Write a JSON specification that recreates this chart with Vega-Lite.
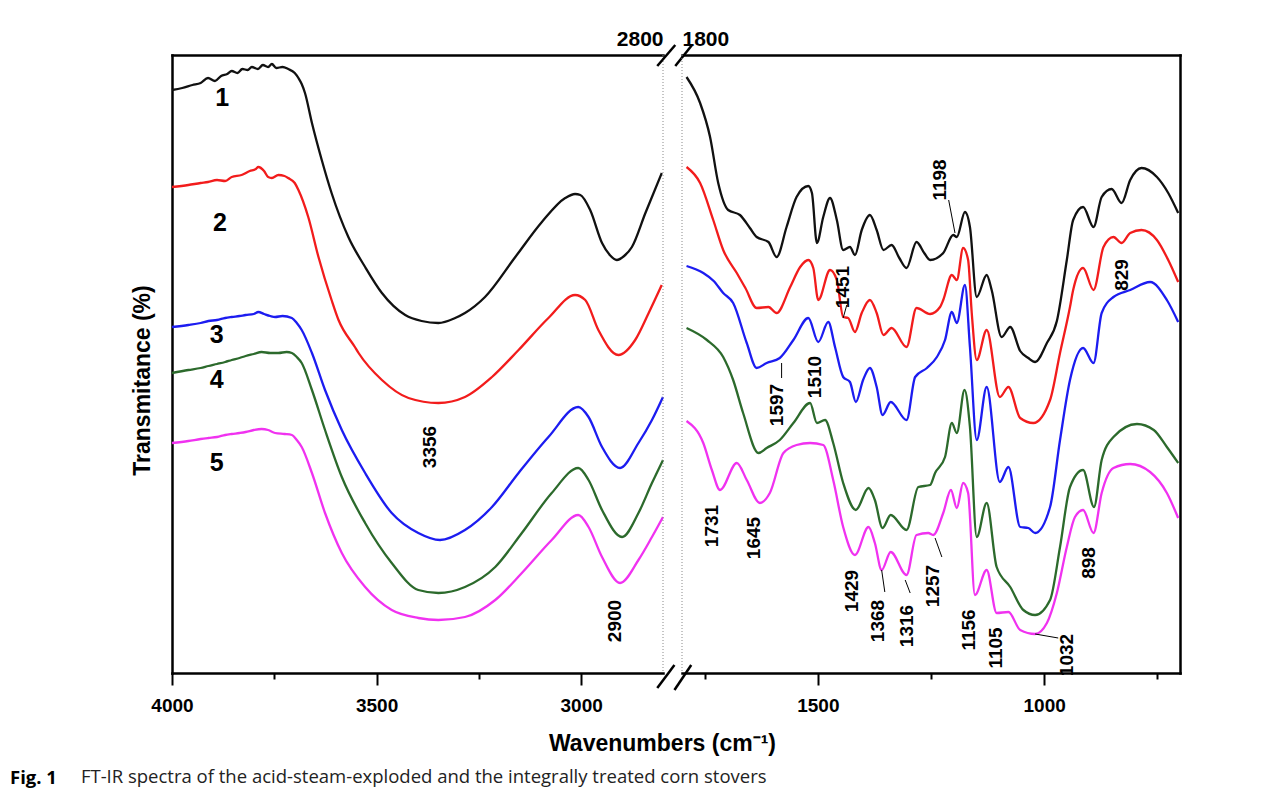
{
  "$schema": "https://vega.github.io/schema/vega-lite/v6.json",
  "background": "white",
  "padding": {"left": 10, "top": 28, "right": 10, "bottom": 4},
  "bounds": "flush",
  "config": {
    "view": {"stroke": null},
    "font": "Liberation Sans",
    "axis": {
      "domainColor": "black", "domainWidth": 2.5, "domainCap": "square",
      "tickColor": "black", "tickWidth": 2,
      "labelColor": "black", "titleColor": "black", "grid": false,
      "labelFont": "Liberation Sans", "labelFontWeight": "bold", "labelFontSize": 19,
      "titleFont": "Liberation Sans", "titleFontWeight": "bold"
    }
  },
  "title": {
    "text": "\u200b\u2003\u2003\u2003\u2002\u2009\u2009FT-IR spectra of the acid-steam-exploded and the integrally treated corn stovers",
    "subtitle": "Fig. 1",
    "orient": "bottom", "anchor": "start", "frame": "bounds",
    "font": "Open Sans", "fontSize": 18.5, "fontWeight": "normal", "color": "#222",
    "subtitleFont": "Open Sans", "subtitleFontSize": 18.5, "subtitleFontWeight": "bold", "subtitleColor": "black",
    "subtitlePadding": -17.5, "dx": -121, "offset": 13
  },
  "datasets": {
    "spectra": [
      {"s":"1","w":4000,"t":583},{"s":"1","w":3975,"t":585},{"s":"1","w":3950,"t":588},{"s":"1","w":3930,"t":590},{"s":"1","w":3912,"t":595},{"s":"1","w":3895,"t":592},{"s":"1","w":3880,"t":597},{"s":"1","w":3865,"t":599},{"s":"1","w":3854,"t":602},{"s":"1","w":3840,"t":600},{"s":"1","w":3828,"t":604},{"s":"1","w":3815,"t":603},{"s":"1","w":3805,"t":606},{"s":"1","w":3790,"t":604},{"s":"1","w":3778,"t":608},{"s":"1","w":3765,"t":606},{"s":"1","w":3756,"t":609},{"s":"1","w":3745,"t":605},{"s":"1","w":3730,"t":606},{"s":"1","w":3716,"t":604},{"s":"1","w":3700,"t":600},{"s":"1","w":3691,"t":595},{"s":"1","w":3683,"t":589},{"s":"1","w":3675,"t":580},{"s":"1","w":3658,"t":550},{"s":"1","w":3634,"t":513},{"s":"1","w":3610,"t":480},{"s":"1","w":3569,"t":436},{"s":"1","w":3528,"t":406},{"s":"1","w":3487,"t":380},{"s":"1","w":3430,"t":358},{"s":"1","w":3390,"t":352},{"s":"1","w":3349,"t":350},{"s":"1","w":3308,"t":355},{"s":"1","w":3284,"t":360},{"s":"1","w":3235,"t":376},{"s":"1","w":3161,"t":416},{"s":"1","w":3096,"t":451},{"s":"1","w":3039,"t":475},{"s":"1","w":3015,"t":479},{"s":"1","w":3002,"t":478},{"s":"1","w":2978,"t":463},{"s":"1","w":2949,"t":430},{"s":"1","w":2930,"t":418},{"s":"1","w":2913,"t":413},{"s":"1","w":2895,"t":417},{"s":"1","w":2876,"t":426},{"s":"1","w":2843,"t":460},{"s":"1","w":2803,"t":500},
      {"s":"2","w":4000,"t":486},{"s":"2","w":3960,"t":488},{"s":"2","w":3930,"t":490},{"s":"2","w":3912,"t":491},{"s":"2","w":3890,"t":493},{"s":"2","w":3870,"t":492},{"s":"2","w":3854,"t":496},{"s":"2","w":3830,"t":498},{"s":"2","w":3810,"t":502},{"s":"2","w":3795,"t":504},{"s":"2","w":3789,"t":506},{"s":"2","w":3775,"t":502},{"s":"2","w":3765,"t":496},{"s":"2","w":3756,"t":495},{"s":"2","w":3740,"t":498},{"s":"2","w":3725,"t":497},{"s":"2","w":3716,"t":495},{"s":"2","w":3700,"t":490},{"s":"2","w":3691,"t":483},{"s":"2","w":3667,"t":456},{"s":"2","w":3642,"t":416},{"s":"2","w":3610,"t":373},{"s":"2","w":3593,"t":353},{"s":"2","w":3553,"t":326},{"s":"2","w":3544,"t":320},{"s":"2","w":3487,"t":293},{"s":"2","w":3422,"t":275},{"s":"2","w":3349,"t":270},{"s":"2","w":3284,"t":276},{"s":"2","w":3218,"t":296},{"s":"2","w":3153,"t":323},{"s":"2","w":3080,"t":355},{"s":"2","w":3015,"t":378},{"s":"2","w":2990,"t":373},{"s":"2","w":2958,"t":343},{"s":"2","w":2909,"t":318},{"s":"2","w":2868,"t":333},{"s":"2","w":2835,"t":360},{"s":"2","w":2803,"t":388},
      {"s":"3","w":4000,"t":346},{"s":"3","w":3960,"t":348},{"s":"3","w":3930,"t":350},{"s":"3","w":3911,"t":352},{"s":"3","w":3890,"t":353},{"s":"3","w":3870,"t":355},{"s":"3","w":3854,"t":356},{"s":"3","w":3835,"t":357},{"s":"3","w":3820,"t":358},{"s":"3","w":3800,"t":359},{"s":"3","w":3789,"t":361},{"s":"3","w":3775,"t":359},{"s":"3","w":3760,"t":357},{"s":"3","w":3748,"t":356},{"s":"3","w":3730,"t":357},{"s":"3","w":3707,"t":355},{"s":"3","w":3695,"t":350},{"s":"3","w":3683,"t":343},{"s":"3","w":3658,"t":320},{"s":"3","w":3626,"t":283},{"s":"3","w":3585,"t":243},{"s":"3","w":3528,"t":200},{"s":"3","w":3463,"t":160},{"s":"3","w":3398,"t":140},{"s":"3","w":3345,"t":133},{"s":"3","w":3284,"t":143},{"s":"3","w":3218,"t":166},{"s":"3","w":3153,"t":200},{"s":"3","w":3080,"t":236},{"s":"3","w":3007,"t":266},{"s":"3","w":2982,"t":256},{"s":"3","w":2949,"t":226},{"s":"3","w":2905,"t":205},{"s":"3","w":2860,"t":230},{"s":"3","w":2827,"t":253},{"s":"3","w":2800,"t":276},
      {"s":"4","w":4000,"t":300},{"s":"4","w":3960,"t":303},{"s":"4","w":3930,"t":305},{"s":"4","w":3911,"t":307},{"s":"4","w":3890,"t":309},{"s":"4","w":3870,"t":311},{"s":"4","w":3854,"t":313},{"s":"4","w":3835,"t":315},{"s":"4","w":3820,"t":317},{"s":"4","w":3800,"t":319},{"s":"4","w":3781,"t":321},{"s":"4","w":3760,"t":320},{"s":"4","w":3740,"t":320},{"s":"4","w":3720,"t":321},{"s":"4","w":3707,"t":320},{"s":"4","w":3695,"t":316},{"s":"4","w":3683,"t":310},{"s":"4","w":3658,"t":283},{"s":"4","w":3626,"t":243},{"s":"4","w":3585,"t":196},{"s":"4","w":3528,"t":150},{"s":"4","w":3463,"t":110},{"s":"4","w":3398,"t":83},{"s":"4","w":3349,"t":80},{"s":"4","w":3284,"t":86},{"s":"4","w":3210,"t":106},{"s":"4","w":3145,"t":140},{"s":"4","w":3072,"t":180},{"s":"4","w":3007,"t":205},{"s":"4","w":2982,"t":193},{"s":"4","w":2949,"t":163},{"s":"4","w":2900,"t":136},{"s":"4","w":2860,"t":160},{"s":"4","w":2827,"t":190},{"s":"4","w":2800,"t":213},
      {"s":"5","w":4000,"t":230},{"s":"5","w":3960,"t":232},{"s":"5","w":3930,"t":234},{"s":"5","w":3911,"t":235},{"s":"5","w":3890,"t":236},{"s":"5","w":3870,"t":238},{"s":"5","w":3854,"t":239},{"s":"5","w":3835,"t":240},{"s":"5","w":3820,"t":241},{"s":"5","w":3800,"t":243},{"s":"5","w":3781,"t":244},{"s":"5","w":3765,"t":243},{"s":"5","w":3748,"t":240},{"s":"5","w":3725,"t":239},{"s":"5","w":3707,"t":238},{"s":"5","w":3695,"t":233},{"s":"5","w":3683,"t":226},{"s":"5","w":3658,"t":200},{"s":"5","w":3626,"t":160},{"s":"5","w":3585,"t":120},{"s":"5","w":3528,"t":86},{"s":"5","w":3463,"t":63},{"s":"5","w":3398,"t":55},{"s":"5","w":3349,"t":53},{"s":"5","w":3284,"t":56},{"s":"5","w":3210,"t":73},{"s":"5","w":3145,"t":100},{"s":"5","w":3072,"t":133},{"s":"5","w":3007,"t":158},{"s":"5","w":2982,"t":146},{"s":"5","w":2949,"t":116},{"s":"5","w":2905,"t":90},{"s":"5","w":2860,"t":113},{"s":"5","w":2827,"t":136},{"s":"5","w":2800,"t":156},
      {"s":"1","w":1790,"t":596},{"s":"1","w":1760,"t":570},{"s":"1","w":1738,"t":536},{"s":"1","w":1720,"t":490},{"s":"1","w":1698,"t":463},{"s":"1","w":1672,"t":458},{"s":"1","w":1650,"t":445},{"s":"1","w":1635,"t":436},{"s":"1","w":1609,"t":431},{"s":"1","w":1591,"t":416},{"s":"1","w":1569,"t":446},{"s":"1","w":1547,"t":476},{"s":"1","w":1521,"t":487},{"s":"1","w":1513,"t":480},{"s":"1","w":1502,"t":430},{"s":"1","w":1488,"t":456},{"s":"1","w":1473,"t":475},{"s":"1","w":1458,"t":453},{"s":"1","w":1444,"t":423},{"s":"1","w":1429,"t":426},{"s":"1","w":1418,"t":418},{"s":"1","w":1403,"t":443},{"s":"1","w":1385,"t":458},{"s":"1","w":1370,"t":443},{"s":"1","w":1355,"t":423},{"s":"1","w":1337,"t":428},{"s":"1","w":1320,"t":415},{"s":"1","w":1304,"t":405},{"s":"1","w":1282,"t":431},{"s":"1","w":1265,"t":420},{"s":"1","w":1252,"t":413},{"s":"1","w":1223,"t":420},{"s":"1","w":1201,"t":438},{"s":"1","w":1193,"t":436},{"s":"1","w":1175,"t":461},{"s":"1","w":1164,"t":446},{"s":"1","w":1149,"t":376},{"s":"1","w":1127,"t":398},{"s":"1","w":1116,"t":383},{"s":"1","w":1094,"t":336},{"s":"1","w":1075,"t":346},{"s":"1","w":1053,"t":322},{"s":"1","w":1035,"t":315},{"s":"1","w":1020,"t":311},{"s":"1","w":994,"t":330},{"s":"1","w":972,"t":352},{"s":"1","w":950,"t":413},{"s":"1","w":936,"t":453},{"s":"1","w":914,"t":466},{"s":"1","w":891,"t":446},{"s":"1","w":873,"t":476},{"s":"1","w":851,"t":484},{"s":"1","w":829,"t":470},{"s":"1","w":810,"t":493},{"s":"1","w":785,"t":505},{"s":"1","w":751,"t":496},{"s":"1","w":726,"t":480},{"s":"1","w":704,"t":460},
      {"s":"2","w":1790,"t":506},{"s":"2","w":1760,"t":490},{"s":"2","w":1731,"t":453},{"s":"2","w":1709,"t":423},{"s":"2","w":1679,"t":400},{"s":"2","w":1660,"t":385},{"s":"2","w":1635,"t":365},{"s":"2","w":1609,"t":366},{"s":"2","w":1591,"t":360},{"s":"2","w":1561,"t":386},{"s":"2","w":1539,"t":406},{"s":"2","w":1521,"t":413},{"s":"2","w":1510,"t":405},{"s":"2","w":1499,"t":373},{"s":"2","w":1473,"t":403},{"s":"2","w":1458,"t":393},{"s":"2","w":1444,"t":356},{"s":"2","w":1433,"t":355},{"s":"2","w":1418,"t":341},{"s":"2","w":1403,"t":360},{"s":"2","w":1385,"t":373},{"s":"2","w":1370,"t":360},{"s":"2","w":1355,"t":338},{"s":"2","w":1337,"t":345},{"s":"2","w":1304,"t":326},{"s":"2","w":1282,"t":365},{"s":"2","w":1252,"t":359},{"s":"2","w":1230,"t":366},{"s":"2","w":1223,"t":373},{"s":"2","w":1204,"t":398},{"s":"2","w":1193,"t":393},{"s":"2","w":1179,"t":425},{"s":"2","w":1168,"t":413},{"s":"2","w":1160,"t":360},{"s":"2","w":1149,"t":313},{"s":"2","w":1127,"t":343},{"s":"2","w":1098,"t":276},{"s":"2","w":1079,"t":286},{"s":"2","w":1053,"t":255},{"s":"2","w":1024,"t":250},{"s":"2","w":987,"t":273},{"s":"2","w":965,"t":320},{"s":"2","w":943,"t":366},{"s":"2","w":936,"t":383},{"s":"2","w":914,"t":405},{"s":"2","w":891,"t":383},{"s":"2","w":869,"t":426},{"s":"2","w":847,"t":436},{"s":"2","w":829,"t":430},{"s":"2","w":810,"t":440},{"s":"2","w":785,"t":443},{"s":"2","w":751,"t":433},{"s":"2","w":726,"t":413},{"s":"2","w":704,"t":391},
      {"s":"3","w":1790,"t":407},{"s":"3","w":1753,"t":400},{"s":"3","w":1730,"t":392},{"s":"3","w":1709,"t":380},{"s":"3","w":1687,"t":370},{"s":"3","w":1657,"t":330},{"s":"3","w":1635,"t":305},{"s":"3","w":1613,"t":310},{"s":"3","w":1584,"t":315},{"s":"3","w":1554,"t":333},{"s":"3","w":1521,"t":355},{"s":"3","w":1499,"t":331},{"s":"3","w":1477,"t":351},{"s":"3","w":1462,"t":326},{"s":"3","w":1444,"t":296},{"s":"3","w":1429,"t":291},{"s":"3","w":1416,"t":271},{"s":"3","w":1400,"t":293},{"s":"3","w":1385,"t":305},{"s":"3","w":1370,"t":286},{"s":"3","w":1357,"t":258},{"s":"3","w":1339,"t":271},{"s":"3","w":1304,"t":253},{"s":"3","w":1285,"t":296},{"s":"3","w":1259,"t":305},{"s":"3","w":1237,"t":316},{"s":"3","w":1219,"t":333},{"s":"3","w":1204,"t":361},{"s":"3","w":1193,"t":350},{"s":"3","w":1175,"t":388},{"s":"3","w":1164,"t":326},{"s":"3","w":1149,"t":233},{"s":"3","w":1127,"t":286},{"s":"3","w":1098,"t":191},{"s":"3","w":1079,"t":206},{"s":"3","w":1053,"t":146},{"s":"3","w":1035,"t":145},{"s":"3","w":1020,"t":140},{"s":"3","w":987,"t":166},{"s":"3","w":965,"t":233},{"s":"3","w":943,"t":293},{"s":"3","w":914,"t":325},{"s":"3","w":891,"t":310},{"s":"3","w":873,"t":360},{"s":"3","w":847,"t":376},{"s":"3","w":810,"t":383},{"s":"3","w":766,"t":391},{"s":"3","w":729,"t":373},{"s":"3","w":704,"t":351},
      {"s":"4","w":1790,"t":345},{"s":"4","w":1745,"t":333},{"s":"4","w":1709,"t":316},{"s":"4","w":1687,"t":293},{"s":"4","w":1665,"t":260},{"s":"4","w":1631,"t":220},{"s":"4","w":1613,"t":225},{"s":"4","w":1584,"t":233},{"s":"4","w":1554,"t":250},{"s":"4","w":1517,"t":270},{"s":"4","w":1502,"t":250},{"s":"4","w":1484,"t":253},{"s":"4","w":1466,"t":230},{"s":"4","w":1444,"t":190},{"s":"4","w":1416,"t":163},{"s":"4","w":1388,"t":185},{"s":"4","w":1374,"t":173},{"s":"4","w":1357,"t":145},{"s":"4","w":1339,"t":158},{"s":"4","w":1304,"t":143},{"s":"4","w":1278,"t":186},{"s":"4","w":1252,"t":188},{"s":"4","w":1241,"t":200},{"s":"4","w":1219,"t":216},{"s":"4","w":1204,"t":250},{"s":"4","w":1193,"t":240},{"s":"4","w":1176,"t":283},{"s":"4","w":1164,"t":246},{"s":"4","w":1149,"t":136},{"s":"4","w":1127,"t":170},{"s":"4","w":1105,"t":106},{"s":"4","w":1075,"t":86},{"s":"4","w":1046,"t":63},{"s":"4","w":1020,"t":58},{"s":"4","w":987,"t":73},{"s":"4","w":965,"t":126},{"s":"4","w":943,"t":186},{"s":"4","w":914,"t":203},{"s":"4","w":890,"t":166},{"s":"4","w":873,"t":213},{"s":"4","w":847,"t":236},{"s":"4","w":795,"t":249},{"s":"4","w":758,"t":243},{"s":"4","w":729,"t":226},{"s":"4","w":704,"t":210},
      {"s":"5","w":1790,"t":252},{"s":"5","w":1753,"t":230},{"s":"5","w":1734,"t":203},{"s":"5","w":1716,"t":183},{"s":"5","w":1679,"t":210},{"s":"5","w":1657,"t":193},{"s":"5","w":1628,"t":170},{"s":"5","w":1606,"t":180},{"s":"5","w":1576,"t":220},{"s":"5","w":1547,"t":228},{"s":"5","w":1517,"t":230},{"s":"5","w":1488,"t":228},{"s":"5","w":1466,"t":193},{"s":"5","w":1444,"t":146},{"s":"5","w":1418,"t":118},{"s":"5","w":1388,"t":146},{"s":"5","w":1374,"t":130},{"s":"5","w":1359,"t":103},{"s":"5","w":1339,"t":121},{"s":"5","w":1304,"t":98},{"s":"5","w":1282,"t":138},{"s":"5","w":1256,"t":140},{"s":"5","w":1245,"t":138},{"s":"5","w":1223,"t":160},{"s":"5","w":1206,"t":183},{"s":"5","w":1193,"t":165},{"s":"5","w":1179,"t":190},{"s":"5","w":1168,"t":180},{"s":"5","w":1153,"t":78},{"s":"5","w":1127,"t":103},{"s":"5","w":1105,"t":60},{"s":"5","w":1079,"t":61},{"s":"5","w":1053,"t":43},{"s":"5","w":1020,"t":39},{"s":"5","w":994,"t":50},{"s":"5","w":972,"t":80},{"s":"5","w":950,"t":126},{"s":"5","w":932,"t":156},{"s":"5","w":914,"t":163},{"s":"5","w":891,"t":140},{"s":"5","w":873,"t":180},{"s":"5","w":847,"t":205},{"s":"5","w":810,"t":209},{"s":"5","w":766,"t":201},{"s":"5","w":729,"t":180},{"s":"5","w":704,"t":155}
    ],
    "labels": [
      {"label":"1","kind":"curve","w":3877,"t":575},
      {"label":"2","kind":"curve","w":3883,"t":450},
      {"label":"3","kind":"curve","w":3891,"t":338},
      {"label":"4","kind":"curve","w":3891,"t":293},
      {"label":"5","kind":"curve","w":3891,"t":210},
      {"label":"3356","kind":"peakL","w":3369,"t":226},
      {"label":"2900","kind":"peakL","w":2917,"t":52},
      {"label":"1198","kind":"peakR","w":1230,"t":493},
      {"label":"1451","kind":"peakR","w":1444,"t":386},
      {"label":"829","kind":"peakR","w":829,"t":398},
      {"label":"1597","kind":"peakR","w":1591,"t":268},
      {"label":"1510","kind":"peakR","w":1506,"t":296},
      {"label":"1731","kind":"peakR","w":1734,"t":147},
      {"label":"1645","kind":"peakR","w":1642,"t":135},
      {"label":"1429","kind":"peakR","w":1425,"t":82},
      {"label":"1368","kind":"peakR","w":1366,"t":52},
      {"label":"1316","kind":"peakR","w":1304,"t":47},
      {"label":"1257","kind":"peakR","w":1245,"t":87},
      {"label":"1156","kind":"peakR","w":1167,"t":43},
      {"label":"1105","kind":"peakR","w":1106,"t":25},
      {"label":"1032","kind":"peakR","w":950,"t":18},
      {"label":"898","kind":"peakR","w":902,"t":110}
    ],
    "leaders": [
      {"peak":"1198","w1":1211,"t1":473,"w2":1197,"t2":440},
      {"peak":"1451","w1":1436,"t1":368,"w2":1444,"t2":355},
      {"peak":"1597","w1":1580,"t1":310,"w2":1580,"t2":295},
      {"peak":"1368","w1":1359,"t1":103,"w2":1352,"t2":81},
      {"peak":"1316","w1":1307,"t1":93,"w2":1296,"t2":80},
      {"peak":"1257","w1":1241,"t1":135,"w2":1226,"t2":116},
      {"peak":"1032","w1":1020,"t1":39,"w2":969,"t2":35}
    ],
    "one": [{}]
  },
  "spacing": 19,
  "hconcat": [
    {
      "width": 491, "height": 618,
      "resolve": {"axis": {"x": "independent", "y": "independent"}},
      "layer": [
        {
          "data": {"name": "spectra"},
          "transform": [{"filter": "datum.w > 2000"}],
          "mark": {"type": "line", "strokeWidth": 2.3, "interpolate": "monotone"},
          "encoding": {
            "x": {"field": "w", "type": "quantitative",
              "scale": {"domain": [2800, 4000], "reverse": true, "nice": false, "zero": false},
              "axis": {"orient": "bottom", "values": [4000, 3750, 3500, 3250, 3000], "format": "d",
                "labelExpr": "datum.value % 500 === 0 ? datum.label : ''",
                "tickSize": {"condition": {"test": "datum.value % 500 === 0", "value": 12}, "value": 6},
                "labelPadding": 11, "labelFlush": false, "labelOverlap": false, "labelBound": false,
                "title": "Wavenumbers (cm\u207b\u00b9)", "titleFontSize": 23, "titleX": 490, "titlePadding": 17}},
            "y": {"field": "t", "type": "quantitative",
              "scale": {"domain": [0, 618], "nice": false, "zero": false},
              "axis": {"orient": "left", "ticks": false, "labels": false, "title": "Transmitance (%)",
                "titleFontSize": 23, "titlePadding": 18, "titleY": 325}},
            "color": {"field": "s", "type": "nominal",
              "scale": {"domain": ["1","2","3","4","5"], "range": ["#111111","#f21c1c","#1c1cf0","#2c6a2c","#f032f0"]},
              "legend": null}
          }
        },
        {
          "data": {"name": "labels"},
          "transform": [{"filter": "datum.kind === 'curve'"}],
          "mark": {"type": "text", "fontSize": 25, "fontWeight": "bold", "align": "center", "baseline": "middle", "color": "black"},
          "encoding": {
            "x": {"field": "w", "type": "quantitative",
              "scale": {"domain": [2800, 4000], "reverse": true, "nice": false, "zero": false},
              "axis": {"orient": "top", "values": [2800], "format": "d", "ticks": false, "labelAlign": "right",
                "labelPadding": 6, "labelFlush": false, "labelBound": false, "labelFontSize": 21, "title": null}},
            "y": {"field": "t", "type": "quantitative", "scale": {"domain": [0, 618], "nice": false, "zero": false}, "axis": null},
            "text": {"field": "label"}
          }
        },
        {
          "data": {"name": "labels"},
          "transform": [{"filter": "datum.kind === 'peakL'"}],
          "mark": {"type": "text", "fontSize": 19, "fontWeight": "bold", "angle": 270, "align": "center", "baseline": "middle", "color": "black"},
          "encoding": {
            "x": {"field": "w", "type": "quantitative", "scale": {"domain": [2800, 4000], "reverse": true, "nice": false, "zero": false}, "axis": null},
            "y": {"field": "t", "type": "quantitative", "scale": {"domain": [0, 618], "nice": false, "zero": false}, "axis": null},
            "text": {"field": "label"}
          }
        },
        {
          "data": {"name": "one"},
          "mark": {"type": "rule", "color": "#8a8a8a", "strokeWidth": 1, "strokeDash": [1, 2]},
          "encoding": {"x": {"datum": 2800, "type": "quantitative", "scale": {"domain": [2800, 4000], "reverse": true, "nice": false, "zero": false}, "axis": null}}
        },
        {
          "data": {"name": "one"},
          "mark": {"type": "rule", "color": "black", "strokeWidth": 2.5, "clip": false},
          "encoding": {
            "x": {"datum": 2814, "type": "quantitative", "axis": null}, "x2": {"datum": 2772},
            "y": {"datum": -15, "type": "quantitative", "axis": null}, "y2": {"datum": 8}}
        },
        {
          "data": {"name": "one"},
          "mark": {"type": "rule", "color": "black", "strokeWidth": 2.5, "clip": false},
          "encoding": {
            "x": {"datum": 2772, "type": "quantitative", "axis": null}, "x2": {"datum": 2731},
            "y": {"datum": -17, "type": "quantitative", "axis": null}, "y2": {"datum": 8}}
        },
        {
          "data": {"name": "one"},
          "mark": {"type": "rule", "color": "black", "strokeWidth": 2.5, "clip": false},
          "encoding": {
            "x": {"datum": 2814, "type": "quantitative", "axis": null}, "x2": {"datum": 2770},
            "y": {"datum": 607, "type": "quantitative", "axis": null}, "y2": {"datum": 628}}
        },
        {
          "data": {"name": "one"},
          "mark": {"type": "rule", "color": "black", "strokeWidth": 2.5, "clip": false},
          "encoding": {
            "x": {"datum": 2770, "type": "quantitative", "axis": null}, "x2": {"datum": 2729},
            "y": {"datum": 607, "type": "quantitative", "axis": null}, "y2": {"datum": 628}}
        }
      ]
    },
    {
      "width": 498, "height": 618,
      "resolve": {"axis": {"x": "independent", "y": "independent"}},
      "layer": [
        {
          "data": {"name": "spectra"},
          "transform": [{"filter": "datum.w < 2000"}],
          "mark": {"type": "line", "strokeWidth": 2.3, "interpolate": "monotone"},
          "encoding": {
            "x": {"field": "w", "type": "quantitative",
              "scale": {"domain": [700, 1800], "reverse": true, "nice": false, "zero": false},
              "axis": {"orient": "bottom", "values": [1750, 1500, 1250, 1000, 750], "format": "d",
                "labelExpr": "datum.value % 500 === 0 ? datum.label : ''",
                "tickSize": {"condition": {"test": "datum.value % 500 === 0", "value": 12}, "value": 6},
                "labelPadding": 11, "labelFlush": false, "labelOverlap": false, "labelBound": false, "title": null}},
            "y": {"field": "t", "type": "quantitative", "scale": {"domain": [0, 618], "nice": false, "zero": false}, "axis": null},
            "color": {"field": "s", "type": "nominal",
              "scale": {"domain": ["1","2","3","4","5"], "range": ["#111111","#f21c1c","#1c1cf0","#2c6a2c","#f032f0"]},
              "legend": null}
          }
        },
        {
          "data": {"name": "labels"},
          "transform": [{"filter": "datum.kind === 'peakR'"}],
          "mark": {"type": "text", "fontSize": 19, "fontWeight": "bold", "angle": 270, "align": "center", "baseline": "middle", "color": "black"},
          "encoding": {
            "x": {"field": "w", "type": "quantitative",
              "scale": {"domain": [700, 1800], "reverse": true, "nice": false, "zero": false},
              "axis": {"orient": "top", "values": [1800], "format": "d", "ticks": false, "labelAlign": "left",
                "labelPadding": 6, "labelFlush": false, "labelBound": false, "labelFontSize": 21, "title": null}},
            "y": {"field": "t", "type": "quantitative", "scale": {"domain": [0, 618], "nice": false, "zero": false}, "axis": null},
            "text": {"field": "label"}
          }
        },
        {
          "data": {"name": "leaders"},
          "mark": {"type": "rule", "color": "black", "strokeWidth": 1},
          "encoding": {
            "x": {"field": "w1", "type": "quantitative", "scale": {"domain": [700, 1800], "reverse": true, "nice": false, "zero": false}, "axis": null},
            "x2": {"field": "w2"},
            "y": {"field": "t1", "type": "quantitative", "scale": {"domain": [0, 618], "nice": false, "zero": false},
              "axis": {"orient": "right", "ticks": false, "labels": false, "title": null}},
            "y2": {"field": "t2"}
          }
        },
        {
          "data": {"name": "one"},
          "mark": {"type": "rule", "color": "#8a8a8a", "strokeWidth": 1, "strokeDash": [1, 2]},
          "encoding": {"x": {"datum": 1800, "type": "quantitative", "scale": {"domain": [700, 1800], "reverse": true, "nice": false, "zero": false}, "axis": null}}
        }
      ]
    }
  ]
}
